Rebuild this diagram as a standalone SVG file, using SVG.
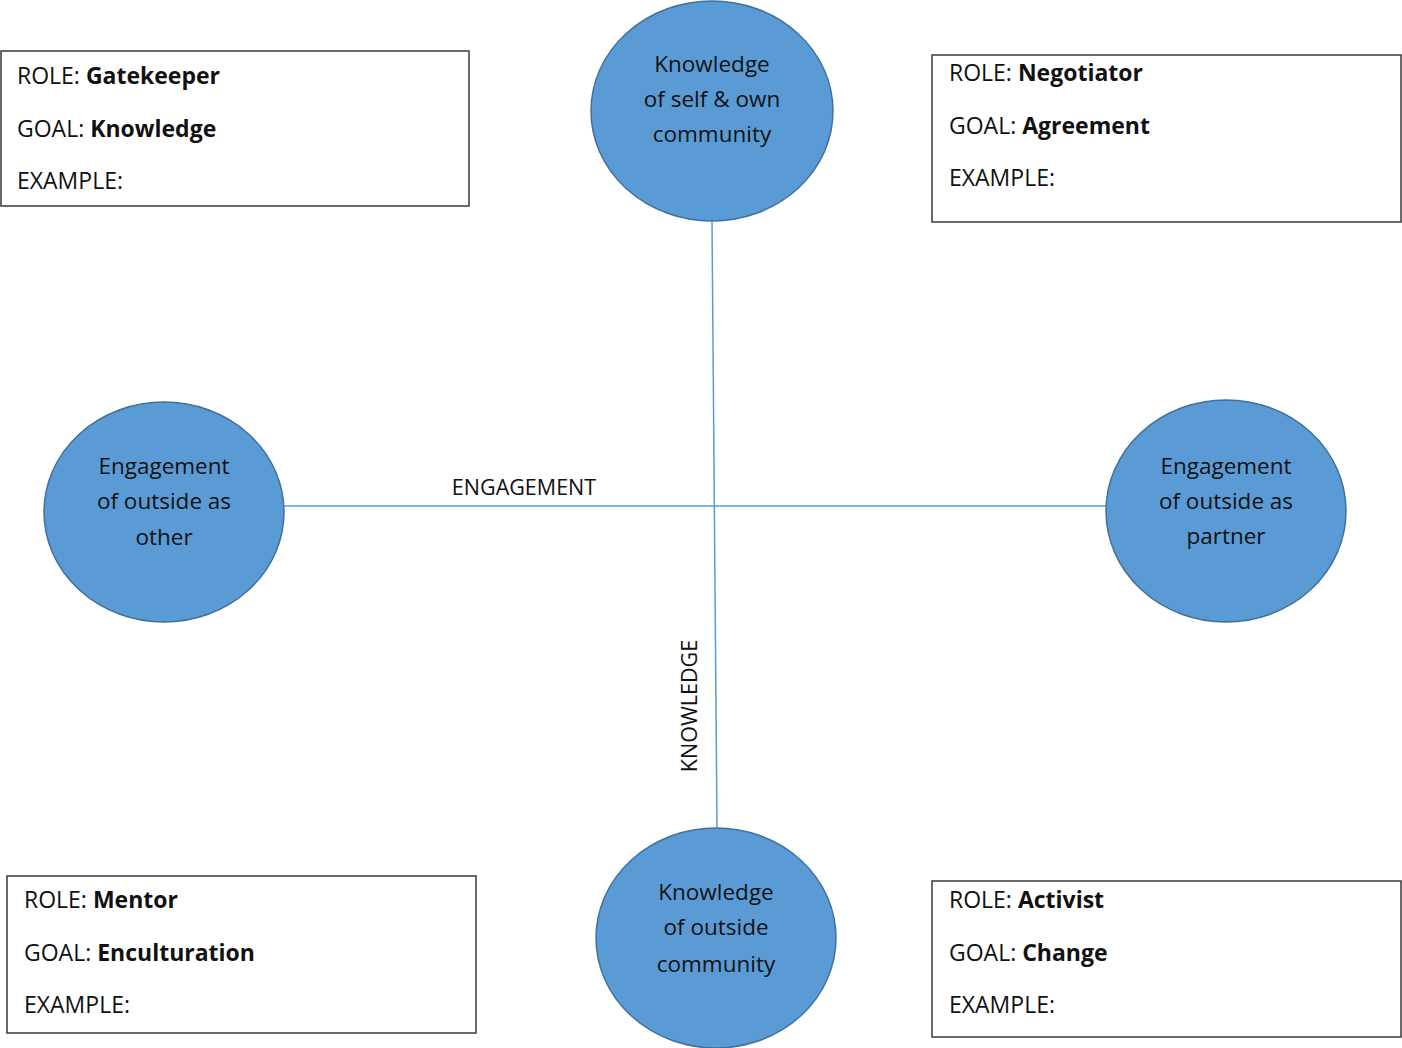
<svg xmlns="http://www.w3.org/2000/svg" width="1402" height="1048" viewBox="0 0 1402 1048">
<style>
.c{fill:#5B9BD5;stroke:#41719C;stroke-width:1.5}
.ct{font-family:"Open Sans","Noto Sans",sans-serif;font-size:22.5px;fill:#111;text-anchor:middle}
.b{fill:#fff;stroke:#3a3a3a;stroke-width:1.5}
.bt{font-family:"Open Sans","Noto Sans",sans-serif;font-size:23px;fill:#111}
.bt tspan.s{font-weight:bold}
.ln{stroke:#5B9BD5;stroke-width:1.5;fill:none}
.lb{font-family:"Open Sans","Noto Sans",sans-serif;font-size:21.5px;fill:#111}
</style>
<rect width="1402" height="1048" fill="#fff"/>
<g id="connectors">
<line class="ln" x1="712" y1="222" x2="717" y2="828"/>
<line class="ln" x1="284" y1="506" x2="1106" y2="506"/>
<text class="lb" x="524" y="495" text-anchor="middle">ENGAGEMENT</text>
<text class="lb" x="0" y="0" text-anchor="middle" transform="translate(697,706) rotate(-90)">KNOWLEDGE</text>
</g>
<g id="node-top">
<ellipse class="c" cx="712" cy="111" rx="121" ry="110"/>
<text class="ct" x="712" y="72">Knowledge</text>
<text class="ct" x="712" y="107">of self &amp; own</text>
<text class="ct" x="712" y="142">community</text>
</g>
<g id="node-left">
<ellipse class="c" cx="164" cy="512" rx="120" ry="110"/>
<text class="ct" x="164" y="474">Engagement</text>
<text class="ct" x="164" y="509">of outside as</text>
<text class="ct" x="164" y="545">other</text>
</g>
<g id="node-right">
<ellipse class="c" cx="1226" cy="511" rx="120" ry="111"/>
<text class="ct" x="1226" y="474">Engagement</text>
<text class="ct" x="1226" y="509">of outside as</text>
<text class="ct" x="1226" y="544">partner</text>
</g>
<g id="node-bottom">
<ellipse class="c" cx="716" cy="938" rx="120" ry="110"/>
<text class="ct" x="716" y="900">Knowledge</text>
<text class="ct" x="716" y="935">of outside</text>
<text class="ct" x="716" y="972">community</text>
</g>
<g id="box-gatekeeper">
<rect class="b" x="1" y="51" width="468" height="155"/>
<text class="bt" x="17" y="84">ROLE: <tspan class="s">Gatekeeper</tspan></text>
<text class="bt" x="17" y="137">GOAL: <tspan class="s">Knowledge</tspan></text>
<text class="bt" x="17" y="189">EXAMPLE:</text>
</g>
<g id="box-negotiator">
<rect class="b" x="932" y="55" width="469" height="167"/>
<text class="bt" x="949" y="81">ROLE: <tspan class="s">Negotiator</tspan></text>
<text class="bt" x="949" y="134">GOAL: <tspan class="s">Agreement</tspan></text>
<text class="bt" x="949" y="186">EXAMPLE:</text>
</g>
<g id="box-mentor">
<rect class="b" x="7" y="876" width="469" height="157"/>
<text class="bt" x="24" y="908">ROLE: <tspan class="s">Mentor</tspan></text>
<text class="bt" x="24" y="961">GOAL: <tspan class="s">Enculturation</tspan></text>
<text class="bt" x="24" y="1013">EXAMPLE:</text>
</g>
<g id="box-activist">
<rect class="b" x="932" y="881" width="469" height="156"/>
<text class="bt" x="949" y="908">ROLE: <tspan class="s">Activist</tspan></text>
<text class="bt" x="949" y="961">GOAL: <tspan class="s">Change</tspan></text>
<text class="bt" x="949" y="1013">EXAMPLE:</text>
</g>
</svg>
